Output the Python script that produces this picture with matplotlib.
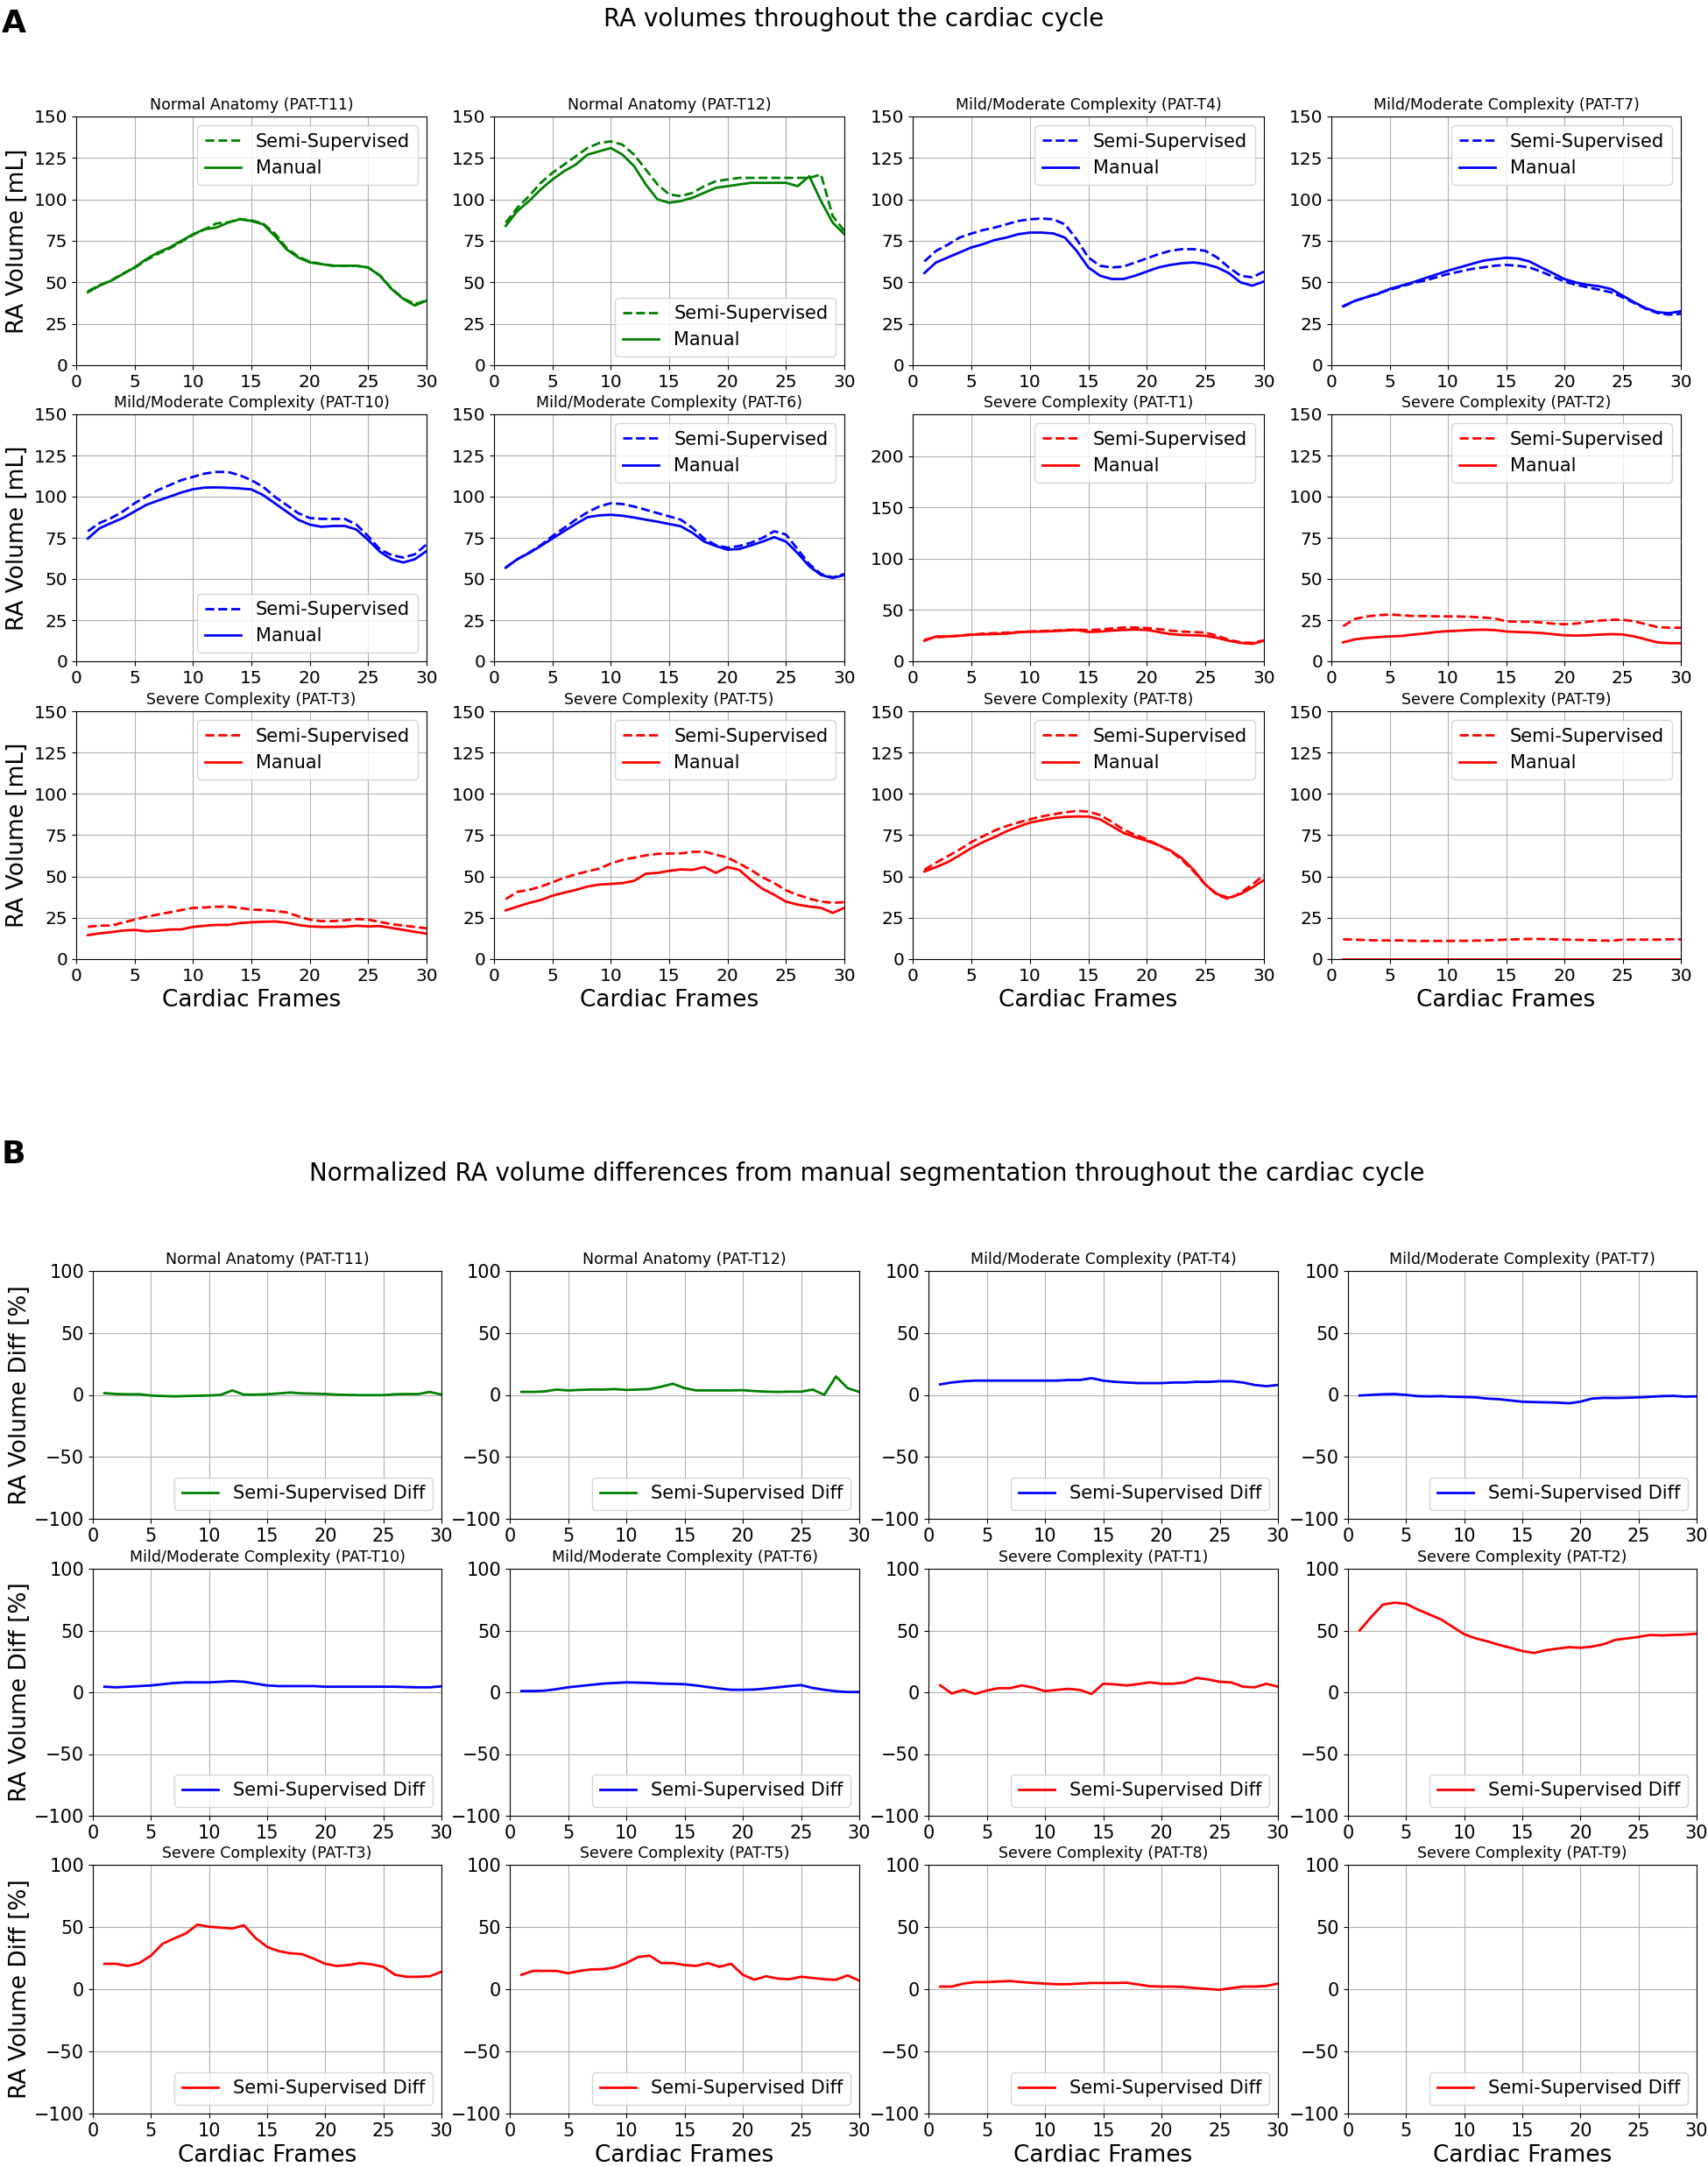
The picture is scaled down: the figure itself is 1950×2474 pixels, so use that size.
import numpy as np
import matplotlib
matplotlib.use("Agg")
import matplotlib.pyplot as plt

# frames 1..30 of the cardiac cycle
frames = list(range(1, 31))

# panel order (same in A and B)
patients = ['PAT-T11', 'PAT-T12', 'PAT-T4', 'PAT-T7',
            'PAT-T10', 'PAT-T6', 'PAT-T1', 'PAT-T2',
            'PAT-T3', 'PAT-T5', 'PAT-T8', 'PAT-T9']
groups = ['Normal Anatomy', 'Normal Anatomy',
          'Mild/Moderate Complexity', 'Mild/Moderate Complexity',
          'Mild/Moderate Complexity', 'Mild/Moderate Complexity',
          'Severe Complexity', 'Severe Complexity',
          'Severe Complexity', 'Severe Complexity',
          'Severe Complexity', 'Severe Complexity']
group_colors = {'Normal Anatomy': 'green',
                'Mild/Moderate Complexity': 'blue',
                'Severe Complexity': 'red'}

# --- A: RA volumes [mL] ---
manual_T11 = [44, 48, 51, 55, 59, 64, 68, 71, 75, 79, 82, 83, 86, 88, 87,
              85, 78, 70, 65, 62, 61, 60, 60, 60, 59, 54, 46, 40, 36, 39]
semi_T11 = [44.6, 48.3, 51.2, 55.3, 58.7, 63.4, 67.2, 70.4, 74.5, 78.6, 82, 85.5, 86.2, 88.2, 87.4,
            85.5, 79.5, 70.8, 65.6, 62.4, 61.1, 60, 59.9, 59.9, 58.9, 54.3, 46.3, 40.3, 36.9, 39.1]

manual_T12 = [84, 93, 99, 106, 112, 117, 121, 127, 129, 131, 127, 120, 109, 100, 98,
              99, 101, 104, 107, 108, 109, 110, 110, 110, 110, 108, 114, 99, 86, 79]
semi_T12 = [86, 95, 102, 110, 116, 121, 126, 131, 134, 135, 133, 127, 118, 109, 103,
            102, 104, 108, 111, 112, 113, 113, 113, 113, 113, 113, 113, 115, 90, 81]

manual_T4 = [55.6, 62, 65, 68, 71, 73, 75.5, 77, 79, 80, 80, 79.5, 77, 69, 59,
             54, 52, 52, 54, 56.5, 59, 60.5, 61.5, 62, 61, 59, 55.6, 50, 48, 50.5]
semi_T4 = [62.6, 69, 72.7, 77, 79.4, 81.5, 83, 85, 87, 88, 88.5, 88, 85, 76, 65,
           60, 59, 59.5, 62, 64.4, 67, 69, 70, 70, 69, 65, 59, 54, 53, 56.5]

manual_T7 = [35.6, 38.8, 41, 43, 46, 48, 50, 52.4, 54.7, 57, 59, 61, 63, 64, 64.8,
             64.4, 62.6, 59, 55.6, 52, 49.9, 48.5, 47.6, 46, 42, 38, 34.4, 32, 31.4, 32.6]
semi_T7 = [35.3, 38.8, 41, 43.5, 45.5, 47.5, 49.5, 51, 53, 55, 56.5, 58, 59, 60, 60.5,
           60, 59, 56.5, 53.5, 50.5, 48.5, 47, 45.5, 44, 41, 37.5, 34, 31.5, 30.5, 31]

manual_T10 = [74.6, 80.8, 84, 87, 91, 95, 97.6, 100, 102.5, 104.5, 105.5, 105.6, 105.4, 105, 104.4,
              101, 96, 91, 86, 83, 81.7, 82.2, 82.2, 80, 73.7, 66.6, 62, 60, 62, 67]
semi_T10 = [79, 84, 87, 91, 96, 100, 104, 107, 110, 112, 114, 115, 115, 113, 110,
            106, 100, 95, 90, 87, 86.5, 86.5, 86.5, 83, 76, 68, 64.5, 63, 65, 71]

manual_T6 = [56.8, 62, 65.7, 70, 74.6, 79, 83.4, 87.5, 88.6, 89, 88.4, 87.3, 86, 84.8, 83.4,
             82, 78, 72.7, 70, 67.8, 68.2, 70.4, 72.7, 75.4, 72.7, 65.7, 57.7, 52.4, 50.6, 52.4]
semi_T6 = [57, 62, 66, 70.5, 76, 81, 86, 90.5, 94, 96, 95.5, 94, 92, 90, 88,
           86, 81, 74.5, 70.5, 69, 70, 72, 75, 79, 77, 68, 59, 53, 51, 53]

manual_T1 = [20, 24.3, 24.3, 25, 26, 26.3, 26.6, 27, 28.3, 29, 29, 29.4, 30, 30.6, 28.6,
             29, 30, 30.6, 31, 30.6, 28.6, 26.6, 25.7, 25.4, 24.9, 22.9, 20, 18, 17, 20]
semi_T1 = [21, 23.5, 24, 25, 26, 27, 27.5, 28, 28.5, 29, 29.5, 30, 30.5, 31, 30.5,
           31, 32, 33, 33, 32.5, 31.5, 30, 29, 28.5, 28, 25, 21, 18.5, 18, 20.5]

manual_T2 = [11.5, 13.3, 14.2, 14.7, 15.1, 15.4, 16.2, 16.9, 17.8, 18.3, 18.6, 19, 19.2, 19, 18.1,
             17.8, 17.6, 17.2, 16.5, 15.8, 15.6, 15.8, 16.2, 16.5, 16.3, 15.1, 13.3, 11.5, 11, 11]
semi_T2 = [21.3, 25.7, 27.2, 28, 28.4, 28, 27.5, 27.5, 27.3, 27.3, 27.2, 27, 26.6, 26.1, 24.3,
           24, 24, 23.6, 22.9, 22.5, 22.9, 24, 24.7, 25.2, 25.2, 24.3, 22.5, 20.8, 20.4, 20.4]

manual_T3 = [14.5, 15.6, 16.3, 17.3, 17.7, 16.8, 17.2, 17.9, 18, 19.5, 20.2, 20.7, 20.7, 21.8, 22.3,
             22.6, 22.8, 22.1, 20.7, 19.8, 19.5, 19.5, 19.6, 20.2, 19.8, 20, 18.9, 17.7, 16.5, 15.4]
semi_T3 = [19.5, 20.3, 20.3, 22.1, 23.9, 25.6, 27, 28.3, 29.7, 31, 31.3, 31.7, 31.8, 31, 30,
           29.7, 29.2, 28.3, 26, 23.9, 23, 23, 23.5, 24.2, 23.9, 22.5, 21.2, 20.3, 19.5, 18.6]

manual_T5 = [29.5, 31.8, 34, 35.7, 38.4, 40.2, 41.9, 43.9, 45.1, 45.5, 46, 47.4, 51.7, 52.2, 53.4,
             54.3, 54, 55.7, 52.2, 55.7, 54, 47.8, 42.5, 38.9, 34.8, 33, 31.8, 31, 28, 31]
semi_T5 = [36.3, 40.7, 41.9, 43.9, 46.5, 49.2, 51.3, 53.1, 54.8, 57.8, 60.1, 61.4, 62.8, 63.7, 63.9,
           64, 64.9, 65.1, 63.2, 61.4, 57.8, 54, 49.5, 46, 41.6, 38.9, 36.6, 34.8, 34.1, 34.5]

manual_T8 = [53, 55.7, 58.7, 62.8, 67.2, 70.8, 73.9, 77.3, 80.1, 82.6, 84, 85.3, 86.1, 86.3, 86.3,
             84.6, 80.5, 76.4, 73.8, 71.6, 69, 65.8, 61, 54, 45.1, 39.4, 37.1, 39.4, 43.3, 47.8]
semi_T8 = [54, 58.4, 62.3, 66.3, 70.8, 74.3, 77.8, 80.5, 82.6, 84.6, 86.3, 87.6, 88.8, 89.7, 89.3,
           87.2, 83.1, 78.4, 75.2, 72.5, 69, 65.5, 60.1, 53.1, 45.1, 38.9, 36.3, 40.2, 45.1, 50.8]

manual_T9 = [0, 0, 0, 0, 0, 0, 0, 0, 0, 0, 0, 0, 0, 0, 0,
             0, 0, 0, 0, 0, 0, 0, 0, 0, 0, 0, 0, 0, 0, 0]
semi_T9 = [12, 11.8, 11.5, 11.3, 11.3, 11.3, 11.1, 11, 11, 11, 11.1, 11.1, 11.3, 11.5, 11.8,
           12, 12.2, 12.2, 12, 11.8, 11.7, 11.5, 11.3, 11.1, 11.8, 11.8, 11.8, 11.8, 12, 12]

# --- B: normalized differences [%] ---
diff_T11 = [1.4, 0.7, 0.5, 0.5, -0.5, -0.9, -1.2, -0.9, -0.7, -0.5, 0, 3.6, 0.2, 0.2, 0.5,
            1.2, 1.9, 1.2, 1, 0.7, 0.2, 0, -0.2, -0.2, -0.2, 0.5, 0.7, 0.7, 2.4, 0.2]
diff_T12 = [2.4, 2.4, 2.8, 4.3, 3.6, 4, 4.3, 4.3, 4.7, 4, 4.3, 4.7, 6.6, 9, 5.5,
            3.6, 3.6, 3.6, 3.6, 3.8, 3.1, 2.6, 2.4, 2.6, 2.6, 4.3, 0, 14.9, 5.5, 2.4]
diff_T4 = [8.5, 10, 11, 11.5, 11.5, 11.5, 11.5, 11.5, 11.5, 11.5, 11.5, 12, 12, 13.5, 11.5,
           10.5, 10, 9.5, 9.5, 9.5, 10, 10, 10.5, 10.5, 11, 11, 10, 8, 7, 8]
diff_T7 = [-0.5, 0, 0.5, 0.7, 0, -1, -1.2, -1, -1.5, -1.7, -2, -3, -3.5, -4.5, -5.5,
           -5.8, -6, -6.2, -6.8, -5.5, -3, -2.4, -2.5, -2.3, -2, -1.5, -1, -0.8, -1.4, -1.2]
diff_T10 = [4.5, 4, 4.5, 5, 5.5, 6.5, 7.5, 8, 8, 8, 8.5, 9, 8.5, 7, 5.5,
            5, 5, 5, 5, 4.5, 4.5, 4.5, 4.5, 4.5, 4.5, 4.5, 4.2, 4, 4, 4.8]
diff_T6 = [1, 1, 1.3, 2.5, 4, 5, 6, 7, 7.5, 8, 7.8, 7.5, 7, 6.8, 6.5,
           5.5, 4.2, 3, 2, 2, 2.2, 3, 4, 5, 5.8, 3.5, 2, 0.8, 0.2, 0.2]
diff_T1 = [5.7, -1, 1.9, -1.4, 1.4, 3.3, 3.3, 5.5, 3.8, 0.9, 1.9, 2.8, 1.9, -1.4, 6.9,
           6.4, 5.5, 6.6, 8, 6.9, 6.9, 8, 11.6, 10.4, 8.5, 8, 4.5, 4, 6.9, 4.5]
diff_T2 = [50, 61, 71, 72.5, 71.6, 67, 63, 59, 53, 47, 43.6, 41.2, 38.4, 36, 33.4,
           31.8, 34, 35.3, 36.5, 36, 37, 38.9, 42.4, 43.6, 44.8, 46.4, 46, 46.4, 46.7, 47.4]
diff_T3 = [20.4, 20.4, 18.7, 21, 27, 36.5, 40.8, 44.8, 51.9, 50.2, 49.5, 48.8, 51.4, 41.2, 34,
           30.6, 28.9, 28.2, 24.6, 20.4, 18.7, 19.4, 21, 19.9, 18, 11.6, 10, 10, 10.4, 14]
diff_T5 = [11.6, 14.7, 14.7, 14.7, 12.8, 14.7, 15.9, 16.1, 17.5, 21, 25.8, 27, 21, 21, 19.4,
           18.7, 21, 18, 20.4, 11.6, 7.6, 10.4, 8.5, 8, 10, 9, 8, 7.6, 11.1, 6.9]
diff_T8 = [2.1, 2.1, 4.5, 5.7, 5.7, 6.2, 6.6, 5.7, 5, 4.5, 4, 4, 4.5, 5, 5,
           5, 5.2, 3.8, 2.4, 2.1, 2.1, 1.7, 0.9, 0.2, -0.5, 0.9, 2.1, 2.1, 2.6, 4.5]
# manual volume is zero for PAT-T9 -> difference undefined, nothing drawn
diff_T9 = [np.nan] * 30

manual_vols = [manual_T11, manual_T12, manual_T4, manual_T7, manual_T10, manual_T6,
               manual_T1, manual_T2, manual_T3, manual_T5, manual_T8, manual_T9]
semi_vols = [semi_T11, semi_T12, semi_T4, semi_T7, semi_T10, semi_T6,
             semi_T1, semi_T2, semi_T3, semi_T5, semi_T8, semi_T9]
diffs = [diff_T11, diff_T12, diff_T4, diff_T7, diff_T10, diff_T6,
         diff_T1, diff_T2, diff_T3, diff_T5, diff_T8, diff_T9]

legend_loc_A = ['upper right', 'lower right', 'upper right', 'upper right',
                'lower right', 'upper right', 'upper right', 'upper right',
                'upper right', 'upper right', 'upper right', 'upper right']

W, H = 1950, 2474
fig = plt.figure(figsize=(W / 100, H / 100), dpi=100)


def px_axes(left, top, right, bottom):
    return fig.add_axes([left / W, 1 - bottom / H, (right - left) / W, (bottom - top) / H])


# pixel boxes measured on the reference
colsA = [(87, 487), (564, 964), (1042, 1443), (1520, 1919)]
rowsA = [(133, 417), (473, 755), (812, 1095)]
colsB = [(106, 504), (582, 981), (1060, 1459), (1539, 1937)]
rowsB = [(1451, 1734), (1791, 2073), (2129, 2413)]

# ---------- panel A ----------
for i in range(12):
    r, c = divmod(i, 4)
    ax = px_axes(colsA[c][0], rowsA[r][0], colsA[c][1], rowsA[r][1])
    col = group_colors[groups[i]]
    ax.plot(frames, semi_vols[i], '--', color=col, lw=2, label='Semi-Supervised')
    ax.plot(frames, manual_vols[i], '-', color=col, lw=2, label='Manual')
    ax.set_xlim(0, 30)
    if patients[i] == 'PAT-T1':
        ax.set_ylim(0, 241)
    else:
        ax.set_ylim(0, 150)
    ax.set_xticks([0, 5, 10, 15, 20, 25, 30])
    ax.tick_params(labelsize=14.5)
    ax.grid(True)
    ax.set_title(f'{groups[i]} ({patients[i]})', fontsize=12.5)
    ax.legend(loc=legend_loc_A[i], fontsize=15)
    if c == 0:
        ax.set_ylabel('RA Volume [mL]', fontsize=19, labelpad=4)
    if r == 2:
        ax.set_xlabel('Cardiac Frames', fontsize=19)

fig.text(975 / W, 1 - 22 / H, 'RA volumes throughout the cardiac cycle',
         ha='center', va='center', fontsize=20)
fig.text(2 / W, 1 - 27 / H, 'A', ha='left', va='center', fontsize=26, fontweight='bold')

# ---------- panel B ----------
for i in range(12):
    r, c = divmod(i, 4)
    ax = px_axes(colsB[c][0], rowsB[r][0], colsB[c][1], rowsB[r][1])
    col = group_colors[groups[i]]
    ax.plot(frames, diffs[i], '-', color=col, lw=2, label='Semi-Supervised Diff')
    ax.set_xlim(0, 30)
    ax.set_ylim(-100, 100)
    ax.set_xticks([0, 5, 10, 15, 20, 25, 30])
    ax.set_yticks([-100, -50, 0, 50, 100])
    ax.tick_params(labelsize=15)
    ax.grid(True)
    ax.set_title(f'{groups[i]} ({patients[i]})', fontsize=12.5)
    ax.legend(loc='lower right', fontsize=15)
    if c == 0:
        ax.set_ylabel('RA Volume Diff [%]', fontsize=19, labelpad=2)
    if r == 2:
        ax.set_xlabel('Cardiac Frames', fontsize=19)

fig.text(990 / W, 1 - 1340 / H,
         'Normalized RA volume differences from manual segmentation throughout the cardiac cycle',
         ha='center', va='center', fontsize=20)
fig.text(2 / W, 1 - 1318 / H, 'B', ha='left', va='center', fontsize=26, fontweight='bold')

fig.savefig('out.png', dpi=100)
